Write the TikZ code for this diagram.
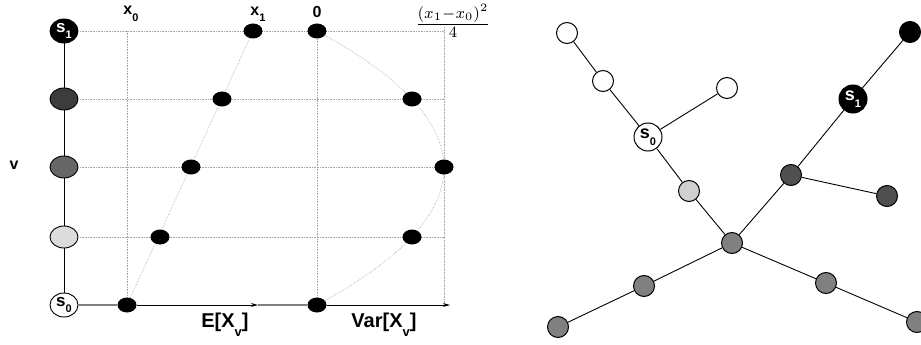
\documentclass[tikz,border=0pt]{standalone}
\usepackage{fontspec}
\usepackage{graphicx}
\setsansfont{Liberation Sans}
\usetikzlibrary{arrows.meta,shapes.geometric}
\newcommand\lsub[2]{#1\raisebox{-0.4em}{\fontsize{11}{11}\selectfont #2}}
\newcommand\bsub[2]{#1\raisebox{-0.45em}{\fontsize{13}{13}\selectfont #2}}
\definecolor{dkg}{HTML}{3C3C3C}
\definecolor{mdg}{HTML}{666666}
\definecolor{ltg}{HTML}{DCDCDC}
\definecolor{rlt}{HTML}{D0D0D0}
\definecolor{rmd}{HTML}{808080}
\definecolor{rdk}{HTML}{505050}
\begin{document}
\begin{tikzpicture}[x=1pt,y=-1pt,
  lab/.style={font=\sffamily\bfseries\fontsize{16}{16}\selectfont, inner sep=0pt},
  big/.style={font=\sffamily\bfseries\fontsize{20}{20}\selectfont, inner sep=0pt},
  lnode/.style={ellipse, draw=black, line width=0.9pt, minimum width=28pt, minimum height=22pt, inner sep=0pt, font=\sffamily\bfseries\fontsize{17}{17}\selectfont},
  dot/.style={ellipse, fill=black, minimum width=19pt, minimum height=15pt, inner sep=0pt},
  grid/.style={gray!70, densely dotted, line width=0.6pt},
  axis/.style={line width=0.9pt, -{Stealth[length=7pt,width=4pt]}},
  rn/.style={circle, draw=black, line width=1pt, minimum size=21pt, inner sep=0pt},
  rs/.style={circle, draw=black, line width=1pt, minimum size=28pt, inner sep=0pt, font=\sffamily\bfseries\fontsize{18}{18}\selectfont},
  edge/.style={line width=0.9pt}]
\useasboundingbox (0,0) rectangle (921,345);
% left column
\node[lnode, fill=black, text=white, minimum height=24pt] (l4) at (64,31) {\lsub{s}{1}};
\node[lnode, fill=dkg] (l3) at (64,99) {};
\node[lnode, fill=mdg] (l2) at (64,167) {};
\node[lnode, fill=ltg] (l1) at (64,237) {};
\node[lnode, fill=white, minimum height=24pt] (l0) at (64,305) {\lsub{s}{0}};
\draw[edge] (l0) -- (l1) (l1) -- (l2) (l2) -- (l3) (l3) -- (l4);
% grid coordinates
\coordinate (gx0t) at (127,31);
\coordinate (gx1t) at (317,31);
\coordinate (gx2t) at (444,27);
\coordinate (gx0b) at (127,305);
\coordinate (gx1b) at (317,305);
\coordinate (gx2b) at (444,305);
\coordinate (h4) at (444,31);
\coordinate (h3) at (444,99);
\coordinate (h2) at (444,167);
\coordinate (h1) at (444,237);
\coordinate (pE0) at (127,305);
\coordinate (pE1) at (253,31);
\draw[grid] (l4) -- (h4) (l3) -- (h3) (l2) -- (h2) (l1) -- (h1);
\draw[grid] (gx0t) -- (gx0b) (gx1t) -- (gx1b) (gx2t) -- (gx2b);
\draw[grid] (pE0) -- (pE1);
\draw[grid] plot[domain=0:1, samples=40] ({317+508*\x*(1-\x)}, {305-274*\x});
% E dots
\node[dot] (e0) at (127,305) {};
\node[dot] (e1) at (160,237) {};
\node[dot] (e2) at (191,167) {};
\node[dot] (e3) at (222,99) {};
\node[dot] (e4) at (253,31) {};
% Var dots
\node[dot] (w0) at (317,305) {};
\node[dot] (w1) at (412,237) {};
\node[dot] (w2) at (444,167) {};
\node[dot] (w3) at (412,99) {};
\node[dot] (w4) at (317,31) {};
% axes
\coordinate (ea) at (258,305);
\coordinate (va) at (450,305);
\draw[gray, line width=1.6pt] (l0) -- (e0);
\draw[gray, line width=1.6pt] (ea) -- (w0);
\draw[axis] (e0) -- (ea);
\draw[axis] (w0) -- (va);
% labels
\node[lab] (tx0) at (131,14) {\lsub{x}{0}};
\node[lab] (tx1) at (258,14) {\lsub{x}{1}};
\node[lab] (t0) at (317,12) {0};
\node[inner sep=0pt] (tf) at (453,21) {\resizebox*{76pt}{33pt}{$\textstyle\frac{(x_1-x_0)^2}{4}$}};
\node[lab] (tv) at (14,165) {v};
\node[big] (tE) at (225,325) {E[\bsub{X}{v}]};
\node[big] (tV) at (384,325) {Var[\bsub{X}{v}]};
% right tree
\node[rn, fill=white] (a) at (567,33) {};
\node[rn, fill=white] (b) at (603,81) {};
\node[rn, fill=white] (c) at (727,88) {};
\node[rs, fill=white] (s0) at (648,137) {\lsub{s}{0}};
\node[rn, fill=rlt] (lg) at (689,191) {};
\node[rn, fill=rmd] (ce) at (732,243) {};
\node[rn, fill=rmd] (ll1) at (644,286) {};
\node[rn, fill=rmd] (ll2) at (558,327) {};
\node[rn, fill=rmd] (lr1) at (826,283) {};
\node[rn, fill=rmd] (lr2) at (917,322) {};
\node[rn, fill=rdk] (d1) at (791,175) {};
\node[rn, fill=rdk] (d2) at (887,196) {};
\node[rs, fill=black, text=white] (s1) at (853,99) {\lsub{s}{1}};
\node[rn, fill=black] (bt) at (910,32) {};
\draw[edge] (a) -- (b) (b) -- (s0) (s0) -- (c) (s0) -- (lg) (lg) -- (ce)
  (ce) -- (ll1) (ll1) -- (ll2) (ce) -- (lr1) (lr1) -- (lr2)
  (ce) -- (d1) (d1) -- (d2) (d1) -- (s1) (s1) -- (bt);
\end{tikzpicture}
\end{document}
